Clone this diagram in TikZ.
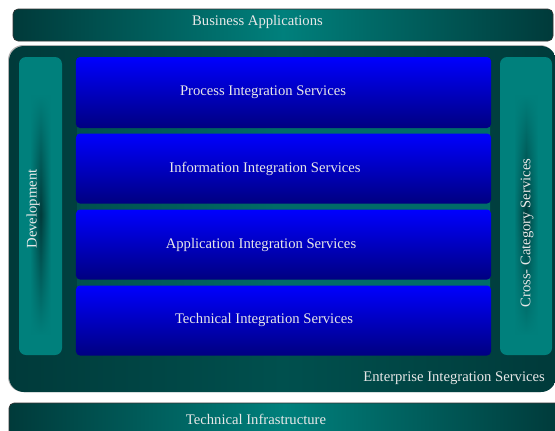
\documentclass[tikz,border=0pt]{standalone}
\usepackage{fontspec}
\setmainfont{Liberation Serif}
\usetikzlibrary{fadings}
\definecolor{dteal}{RGB}{0,58,58}
\definecolor{mteal}{RGB}{0,80,78}
\definecolor{lteal}{RGB}{0,128,124}
\definecolor{gteal}{RGB}{0,108,104}
\definecolor{sdark}{RGB}{0,58,58}
\definecolor{btop}{RGB}{0,0,255}
\definecolor{bbot}{RGB}{0,0,128}
\definecolor{txt}{RGB}{232,232,232}
\tikzfading[name=vmid, top color=transparent!100, bottom color=transparent!100, middle color=transparent!0]
\tikzset{
  band/.style={rounded corners=5bp, draw=black!80, line width=0.6bp,
    left color=dteal, right color=dteal, middle color=lteal},
  bluebox/.style={rounded corners=4bp, top color=btop, bottom color=bbot, inner sep=0pt},
  sidebar/.style={rounded corners=7bp, fill=lteal, inner sep=0pt},
  streak/.style={left color=lteal, right color=lteal, middle color=sdark, path fading=vmid},
  lbl/.style={text=txt, font=\fontsize{14.7}{16}\selectfont, inner sep=0pt}
}
\begin{document}
\begin{tikzpicture}[x=1bp,y=-1bp]
\useasboundingbox (0,0) rectangle (555,430);
\fill[white] (0,0) rectangle (555,430);
% top band
\shade[band] (13,9) rectangle (553,41);
\node[lbl] (ba) at (257.5,21.5) {Business Applications};
% container
\fill[gray!60, rounded corners=15bp] (8,45) rectangle (555,392);
\shade[rounded corners=15bp, left color=dteal, right color=dteal, middle color=mteal] (9,46) rectangle (556,392);
\shade[left color=mteal, right color=gteal, middle color=gteal] (77,60) rectangle (490,352);
% side bars
\node[sidebar, minimum width=43bp, minimum height=298bp] (dev) at (40.5,206) {};
\shade[streak] (30,95) rectangle (51,335);
\node[lbl, rotate=90] (devt) at (33,209) {Development};
\node[sidebar, minimum width=52bp, minimum height=298bp] (ccs) at (526,206) {};
\shade[streak] (514,95) rectangle (538,335);
\node[lbl, rotate=90] (ccst) at (527,233) {Cross- Category Services};
% blue boxes
\node[bluebox, minimum width=415bp, minimum height=71bp] (pis) at (283.5,92.5) {};
\node[bluebox, minimum width=415bp, minimum height=70bp] (iis) at (283.5,168.5) {};
\node[bluebox, minimum width=415bp, minimum height=70bp] (ais) at (283.5,244.5) {};
\node[bluebox, minimum width=415bp, minimum height=70bp] (tis) at (283.5,320.5) {};
\node[lbl] (pist) at (263,92.5) {Process Integration Services};
\node[lbl] (iist) at (265,168.5) {Information Integration Services};
\node[lbl] (aist) at (261,244.5) {Application Integration Services};
\node[lbl] (tist) at (264,319.5) {Technical Integration Services};
\node[lbl, anchor=east] (eis) at (545,378.5) {Enterprise Integration Services};
% bottom band
\shade[band] (9,403) rectangle (560,440);
\node[lbl] (ti) at (256,419.5) {Technical Infrastructure};
\end{tikzpicture}
\end{document}
